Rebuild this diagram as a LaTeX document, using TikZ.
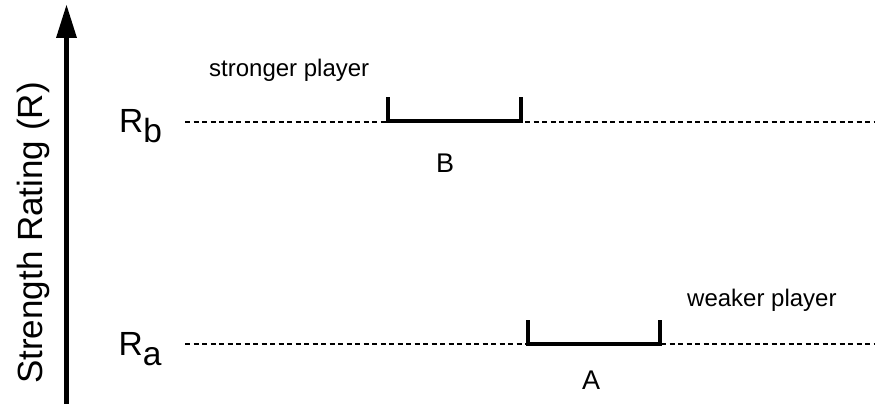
\documentclass[tikz,border=0pt]{standalone}
\usepackage{fontspec}
\setmainfont{Liberation Sans}
\usetikzlibrary{arrows.meta}
\tikzset{
  axis/.style={line width=5pt,-{Triangle[length=33pt,width=21pt,line width=0pt]}},
  dline/.style={line width=1.8pt,dash pattern=on 5pt off 3.5pt},
  bracket/.style={line width=4pt,line join=miter,line cap=rect},
  big/.style={inner sep=0pt,font=\fontsize{33.5}{40}\selectfont},
  ylabstyle/.style={inner sep=0pt,font=\fontsize{35}{42}\selectfont},
  mid/.style={inner sep=0pt,font=\fontsize{27}{32}\selectfont},
  small/.style={inner sep=0pt,font=\fontsize{24}{30}\selectfont}
}
\begin{document}
\begin{tikzpicture}[x=1pt,y=-1pt]
\useasboundingbox (0,0) rectangle (875,404);
% axis
\coordinate (axbot) at (66.5,404);
\coordinate (axtop) at (66.5,5);
\draw[axis] (axbot) -- (axtop);
\node[ylabstyle,rotate=90,anchor=base] (ylab) at (42,233) {Strength Rating (R)};
% levels
\coordinate (rbL) at (185,122);
\coordinate (rbR) at (875,122);
\coordinate (raL) at (185,344);
\coordinate (raR) at (875,344);
\draw[dline] (rbL) -- (rbR);
\draw[dline] (raL) -- (raR);
\node[big,anchor=base west] (rb) at (119,132) {R\raisebox{-10pt}{b}};
\node[big,anchor=base west] (ra) at (118.5,355) {R\raisebox{-10pt}{a}};
% bracket B
\coordinate (b1) at (388,99);
\coordinate (b2) at (388,121);
\coordinate (b3) at (520.5,121);
\coordinate (b4) at (520.5,99);
\draw[bracket] (b1) -- (b2) -- (b3) -- (b4);
% bracket A
\coordinate (a1) at (527.5,322);
\coordinate (a2) at (527.5,343.5);
\coordinate (a3) at (659.5,343.5);
\coordinate (a4) at (659.5,322);
\draw[bracket] (a1) -- (a2) -- (a3) -- (a4);
% labels
\node[mid] (B) at (445,163.5) {B};
\node[mid] (A) at (591,380) {A};
\node[small,anchor=base west] (strong) at (209,77) {stronger player};
\node[small,anchor=base west] (weak) at (687,306) {weaker player};
\end{tikzpicture}
\end{document}
